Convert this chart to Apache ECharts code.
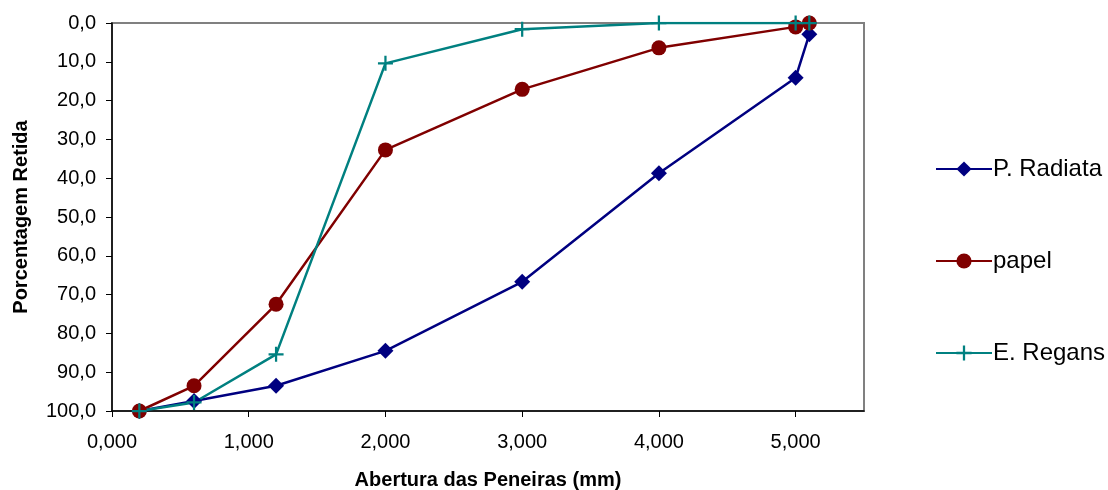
<!DOCTYPE html>
<html>
<head>
<meta charset="utf-8">
<script src="https://cdn.jsdelivr.net/npm/echarts@6/dist/echarts.min.js"></script>
<style>
  html, body { margin: 0; padding: 0; background: #fff; }
  #chart { width: 1108px; height: 490px; }
</style>
</head>
<body>
<div id="chart"></div>
<script>
// abertura das peneiras (mm)
const abertura = [0.2, 0.6, 1.2, 2.0, 3.0, 4.0, 5.0, 5.1]
const radiata = [100, 97.4, 93.5, 84.5, 66.7, 38.7, 14.1, 2.9]
const papel = [100, 93.5, 72.5, 32.7, 17.1, 6.4, 1.0, 0]
const regans = [100, 97.8, 85.4, 10.4, 1.6, 0, 0, 0]
const xTicks = [0, 1, 2, 3, 4, 5]

const plus = 'path://M0,5.1H12V6.9H0ZM5.1,0H6.9V12H5.1Z'

function pares(ys) {
    return abertura.map((x, i) => [x, ys[i]])
}

let chart = echarts.init(document.getElementById('chart'))
let option = {
    animation: false,
    textStyle: {fontFamily: 'Liberation Sans, Arial, sans-serif'},
    grid: {
        left: 112, top: 23, right: 244, bottom: 79,
        outerBoundsMode: 'none',
        show: true, borderColor: '#808080', borderWidth: 2
    },
    legend: {
        orient: 'vertical',
        left: 930, top: 152,
        itemWidth: 56, itemHeight: 19, itemGap: 68,
        textStyle: {fontSize: 24, color: '#000', padding: [0, 0, 0, -4]},
        data: ['P. Radiata', 'papel', 'E. Regans']
    },
    xAxis: {
        type: 'value',
        min: 0, max: 5.5, interval: 1,
        name: 'Abertura das Peneiras (mm)',
        nameLocation: 'middle',
        nameGap: 59,
        nameTextStyle: {fontSize: 20, fontWeight: 'bold', color: '#000'},
        axisLine: {onZero: false, lineStyle: {color: '#000', width: 1.5}},
        axisTick: {show: true, length: 6, customValues: xTicks, lineStyle: {color: '#000'}},
        axisLabel: {
            fontSize: 20, color: '#000', margin: 21, customValues: xTicks,
            formatter: v => v.toFixed(3).replace('.', ',')
        },
        splitLine: {show: false}
    },
    yAxis: {
        type: 'value',
        inverse: true,
        min: 0, max: 100, interval: 10,
        name: 'Porcentagem Retida',
        nameLocation: 'middle',
        nameGap: 81,
        nameTextStyle: {fontSize: 20, fontWeight: 'bold', color: '#000'},
        axisLine: {lineStyle: {color: '#000', width: 1.5}},
        axisTick: {show: true, length: 6, lineStyle: {color: '#000'}},
        axisLabel: {
            fontSize: 20, color: '#000', margin: 16,
            formatter: v => v.toFixed(1).replace('.', ',')
        },
        splitLine: {show: false}
    },
    series: [
        {
            name: 'P. Radiata', type: 'line', data: pares(radiata),
            symbol: 'diamond', symbolSize: 16,
            lineStyle: {color: '#000080', width: 2.5},
            itemStyle: {color: '#000080'}
        },
        {
            name: 'papel', type: 'line', data: pares(papel),
            symbol: 'circle', symbolSize: 15,
            lineStyle: {color: '#800000', width: 2.5},
            itemStyle: {color: '#800000'}
        },
        {
            name: 'E. Regans', type: 'line', data: pares(regans),
            symbol: plus, symbolSize: 15,
            lineStyle: {color: '#008080', width: 2.5},
            itemStyle: {color: '#008080'}
        }
    ]
}
chart.setOption(option)
</script>
</body>
</html>
